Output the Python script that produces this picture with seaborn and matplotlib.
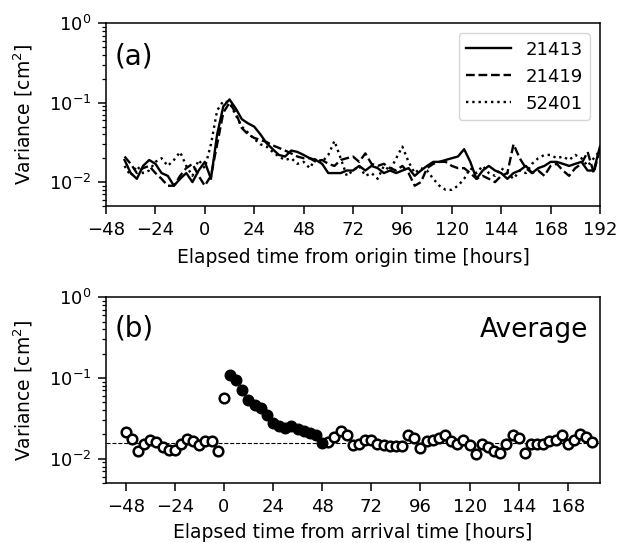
import numpy as np
import pandas as pd
import matplotlib
matplotlib.use("Agg")
import matplotlib.pyplot as plt
import seaborn as sns

# ---------------- data ----------------
hours_a = list(range(-39, 193, 3))

st_21413 = [0.019, 0.013, 0.011, 0.016, 0.019, 0.017, 0.013, 0.012, 0.009, 0.011, 0.013, 0.010, 0.014,
            0.018, 0.011, 0.040, 0.090, 0.110, 0.085, 0.062, 0.055, 0.050, 0.040, 0.031, 0.026, 0.022,
            0.021, 0.025, 0.024, 0.022, 0.020, 0.019, 0.017, 0.013, 0.013, 0.013, 0.014, 0.014, 0.016,
            0.014, 0.016, 0.015, 0.013, 0.014, 0.013, 0.014, 0.015, 0.012, 0.014, 0.016, 0.018, 0.018,
            0.019, 0.020, 0.021, 0.026, 0.018, 0.011, 0.014, 0.016, 0.014, 0.013, 0.011, 0.013, 0.014,
            0.016, 0.013, 0.015, 0.016, 0.018, 0.018, 0.017, 0.016, 0.017, 0.018, 0.014, 0.014, 0.028]

st_21419 = [0.021, 0.017, 0.013, 0.015, 0.016, 0.013, 0.011, 0.009, 0.009, 0.012, 0.015, 0.017, 0.012,
            0.009, 0.012, 0.030, 0.075, 0.100, 0.075, 0.048, 0.040, 0.036, 0.034, 0.032, 0.029, 0.027,
            0.025, 0.023, 0.021, 0.020, 0.020, 0.018, 0.019, 0.017, 0.016, 0.019, 0.020, 0.021, 0.018,
            0.023, 0.017, 0.016, 0.017, 0.015, 0.014, 0.016, 0.013, 0.009, 0.010, 0.015, 0.017, 0.018,
            0.018, 0.016, 0.015, 0.015, 0.013, 0.011, 0.012, 0.011, 0.010, 0.012, 0.013, 0.030, 0.020,
            0.015, 0.013, 0.014, 0.012, 0.016, 0.017, 0.014, 0.012, 0.015, 0.017, 0.024, 0.013, 0.027]

st_52401 = [0.016, 0.012, 0.016, 0.013, 0.014, 0.018, 0.020, 0.016, 0.019, 0.024, 0.016, 0.012, 0.019,
            0.015, 0.030, 0.080, 0.105, 0.100, 0.070, 0.050, 0.042, 0.035, 0.030, 0.028, 0.024, 0.021,
            0.019, 0.020, 0.017, 0.018, 0.015, 0.020, 0.018, 0.022, 0.033, 0.020, 0.012, 0.014, 0.016,
            0.012, 0.013, 0.011, 0.016, 0.014, 0.020, 0.028, 0.018, 0.013, 0.015, 0.014, 0.011, 0.009,
            0.008, 0.008, 0.009, 0.011, 0.015, 0.013, 0.016, 0.013, 0.012, 0.015, 0.013, 0.011, 0.014,
            0.013, 0.017, 0.020, 0.022, 0.022, 0.020, 0.021, 0.019, 0.022, 0.020, 0.016, 0.020, 0.025]

stations = ["21413", "21419", "52401"]

hours_pre = list(range(-48, 1, 3))
avg_pre = [0.0217, 0.0175, 0.0126, 0.0153, 0.0171, 0.0160, 0.0141, 0.0130, 0.0129, 0.0150,
           0.0176, 0.0168, 0.0146, 0.0165, 0.0165, 0.0124, 0.057]
hours_evt = list(range(3, 49, 3))
avg_evt = [0.108, 0.095, 0.070, 0.054, 0.0467, 0.0424, 0.0344, 0.0276, 0.0253, 0.0242,
           0.0253, 0.0235, 0.0219, 0.0209, 0.0199, 0.0157]
hours_post = list(range(51, 181, 3))
avg_post = [0.0163, 0.0184, 0.0219, 0.0199, 0.0146, 0.0150, 0.0171, 0.0171, 0.0153, 0.0146,
            0.0143, 0.0143, 0.0143, 0.0198, 0.0181, 0.0135, 0.0165, 0.0171, 0.0179, 0.0194,
            0.0165, 0.0150, 0.0171, 0.0146, 0.0115, 0.0150, 0.0139, 0.0126, 0.0117, 0.0153,
            0.0199, 0.0181, 0.0117, 0.0153, 0.0150, 0.0153, 0.0165, 0.0171, 0.0194, 0.0153,
            0.0171, 0.0203, 0.0184, 0.0160]
background_level = 0.0158

xticks_a = [-48, -24, 0, 24, 48, 72, 96, 120, 144, 168, 192]
xticks_b = [-48, -24, 0, 24, 48, 72, 96, 120, 144, 168]

# ---------------- figure ----------------
TFS = 13
LFS = 13.5
plt.rcParams['font.family'] = ['DejaVu Sans']
plt.rcParams['axes.linewidth'] = 1.1
fig = plt.figure(figsize=(6.17, 5.43), dpi=100)
ax1 = fig.add_axes([0.1718, 0.6206, 0.8006, 0.3364])
ax2 = fig.add_axes([0.1718, 0.1105, 0.8006, 0.3420])

df_a = pd.DataFrame({
    "hour": hours_a * 3,
    "var": st_21413 + st_21419 + st_52401,
    "station": sum([[s] * len(hours_a) for s in stations], []),
})
styles = {"21413": "-", "21419": "--", "52401": ":"}
for s in stations:
    sub = df_a[df_a["station"] == s]
    sns.lineplot(data=sub, x="hour", y="var", ax=ax1, color="k", lw=1.7,
                 linestyle=styles[s], label=s)

for ax in (ax1, ax2):
    ax.set_yscale("log")
    ax.set_ylim(0.005, 1)
    ax.tick_params(which="major", labelsize=TFS, length=5.5, width=1.1, pad=5)
    ax.tick_params(which="minor", length=3, width=0.9)
    ax.set_ylabel("Variance [cm$^2$]", fontsize=LFS, labelpad=10)

ax1.set_xlim(-48, 192)
ax1.set_xticks(xticks_a)
ax1.set_xlabel("Elapsed time from origin time [hours]", fontsize=LFS, labelpad=7)
ax1.text(0.018, 0.82, "(a)", transform=ax1.transAxes, fontsize=20, va="center", ha="left")
ax1.legend(loc="upper right", fontsize=TFS, handlelength=2.5, borderaxespad=0.55)

# panel b
ax2.axhline(background_level, color="k", ls="--", lw=0.8, zorder=1)
df_open = pd.DataFrame({"hour": hours_pre + hours_post, "var": avg_pre + avg_post})
df_fill = pd.DataFrame({"hour": hours_evt, "var": avg_evt})
sns.scatterplot(data=df_open, x="hour", y="var", ax=ax2, marker="o", s=48,
                facecolor="white", edgecolor="k", linewidth=1.8, zorder=3)
sns.scatterplot(data=df_fill, x="hour", y="var", ax=ax2, marker="o", s=58,
                color="k", edgecolor="k", linewidth=1.0, zorder=3)
ax2.set_xlim(-57.6, 183.7)
ax2.set_xticks(xticks_b)
ax2.set_xlabel("Elapsed time from arrival time [hours]", fontsize=LFS, labelpad=5)
ax2.text(0.018, 0.833, "(b)", transform=ax2.transAxes, fontsize=20, va="center", ha="left")
ax2.text(0.976, 0.824, "Average", transform=ax2.transAxes, fontsize=19, va="center", ha="right")

fig.savefig("out.png", dpi=100)
